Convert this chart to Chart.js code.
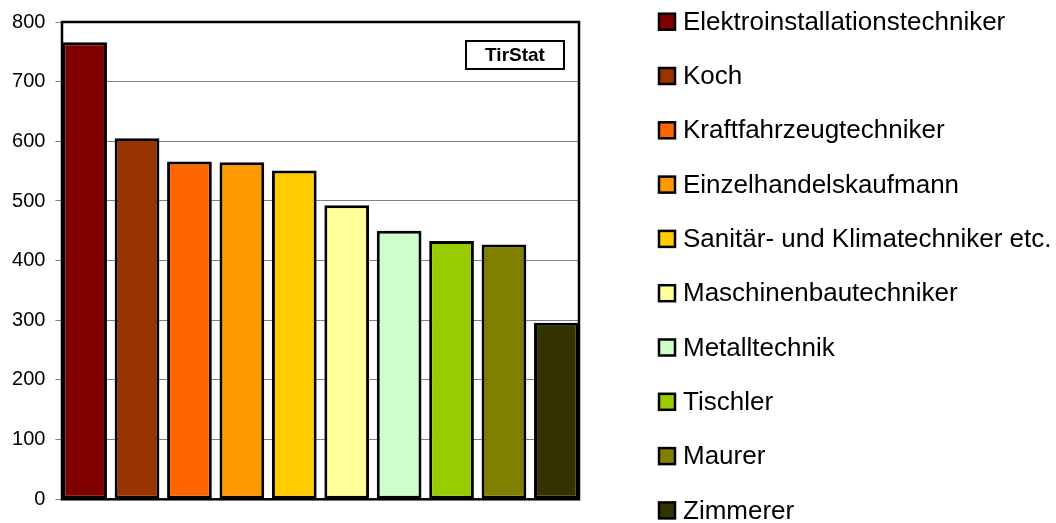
<!DOCTYPE html>
<html>
<head>
<meta charset="utf-8">
<script src="https://cdn.jsdelivr.net/npm/chart.js@4/dist/chart.umd.min.js"></script>
<style>
html,body{margin:0;padding:0;background:#fff;}
#wrap{width:1056px;height:523px;position:relative;}
</style>
</head>
<body>
<div id="wrap"><canvas id="c" width="1056" height="523"></canvas></div>
<script>
const categories = ["Elektroinstallationstechniker","Koch","Kraftfahrzeugtechniker","Einzelhandelskaufmann","Sanitär- und Klimatechniker etc.","Maschinenbautechniker","Metalltechnik","Tischler","Maurer","Zimmerer"];
const values = [766, 605, 566, 565, 551, 493, 450, 433, 427, 296];
const colors = ["#800000","#993300","#FF6600","#FF9900","#FFCC00","#FFFF99","#CCFFCC","#99CC00","#808000","#333300"];
const yTicks = [0,100,200,300,400,500,600,700,800];
const badgeText = "TirStat";

const FONT = 'Arial, "Liberation Sans", sans-serif';
const FRAME = {left:62, right:579};

const extras = {
  id:'extras',
  afterDraw(chart){
    const ctx = chart.ctx;
    const a = chart.chartArea;
    const y = chart.scales.y;
    const top = y.getPixelForValue(800), bot = y.getPixelForValue(0);
    ctx.save();
    ctx.fillStyle = '#fff';
    ctx.fillRect(FRAME.right+1, a.top-2, a.right - FRAME.right + 4, a.bottom - a.top + 4);
    ctx.strokeStyle = '#000';
    ctx.lineWidth = 2.5;
    ctx.strokeRect(FRAME.left, top, FRAME.right - FRAME.left, bot - top);
    ctx.lineWidth = 2;
    ctx.fillStyle = '#fff';
    ctx.fillRect(466, 41, 98, 28);
    ctx.strokeRect(466, 41, 98, 28);
    ctx.fillStyle = '#000';
    ctx.font = 'bold 19px ' + FONT;
    ctx.textAlign = 'center';
    ctx.textBaseline = 'middle';
    ctx.fillText(badgeText, 515, 56);
    ctx.textAlign = 'left';
    ctx.font = '26px ' + FONT;
    const ds = chart.data.datasets[0];
    chart.data.labels.forEach((lab, i) => {
      const cy = 21.7 + i * 54.3;
      ctx.fillStyle = ds.backgroundColor[i];
      ctx.fillRect(659, cy - 8, 16, 16);
      ctx.lineWidth = 2.5;
      ctx.strokeStyle = '#000';
      ctx.strokeRect(659, cy - 8, 16, 16);
      ctx.fillStyle = '#000';
      ctx.fillText(lab, 683, cy + 1);
    });
    ctx.restore();
  }
};

new Chart(document.getElementById('c'), {
  type: 'bar',
  data: {
    labels: categories,
    datasets: [{
      data: values,
      backgroundColor: colors,
      borderColor: '#000',
      borderWidth: 3,
      borderSkipped: false,
      barPercentage: 0.853,
      categoryPercentage: 1.0
    }]
  },
  options: {
    responsive: false,
    animation: false,
    devicePixelRatio: 1,
    layout: { padding: { top: 21.7, bottom: 23.7, left: 0, right: 473.4 } },
    plugins: { legend: { display: false }, tooltip: { enabled: false } },
    scales: {
      x: { display: false, offset: true },
      y: {
        min: 0, max: 800,
        afterFit(s){ s.width = 58.4; },
        afterBuildTicks(s){ s.ticks = yTicks.map(v => ({value: v})); },
        border: { display: false },
        grid: { color: '#808080', lineWidth: 1, tickLength: 3, drawTicks: true },
        ticks: { color: '#000', padding: 10, font: { family: FONT, size: 20 } }
      }
    }
  },
  plugins: [extras]
});
</script>
</body>
</html>
